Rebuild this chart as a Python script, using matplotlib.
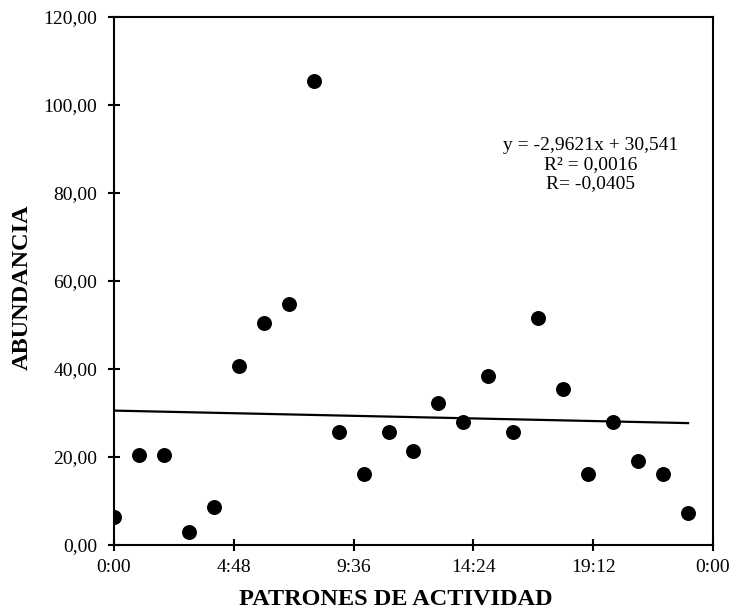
import matplotlib
matplotlib.use("Agg")
import matplotlib.pyplot as plt
import numpy as np

# hourly activity, fraction of a day on x
horas = np.arange(24) / 24.0
abundancia = [6.45, 20.45, 20.45, 3.0, 8.6, 40.75, 50.4, 54.8, 105.45, 25.75,
              16.1, 25.75, 21.4, 32.3, 27.9, 38.5, 25.75, 51.6, 35.45, 16.1,
              27.9, 19.2, 16.1, 7.3]

x_ticks = [0.0, 0.2, 0.4, 0.6, 0.8, 1.0]
x_labels = ["0:00", "4:48", "9:36", "14:24", "19:12", "0:00"]
y_ticks = [0, 20, 40, 60, 80, 100, 120]

pendiente = -2.9621
intercepto = 30.541
texto_ajuste = "y = -2,9621x + 30,541\nR² = 0,0016\nR= -0,0405"

plt.rcParams['font.family'] = ['Liberation Serif', 'DejaVu Serif']

fig = plt.figure(figsize=(7.34, 6.12), dpi=100)
ax = fig.add_axes([0.1553, 0.1095, 0.8161, 0.8627])

ax.scatter(horas, abundancia, s=95, c='black', zorder=3)

xl = np.array([horas[0], horas[-1]])
ax.plot(xl, pendiente * xl + intercepto, color='black', lw=1.6, zorder=2)

ax.set_xlim(0, 1)
ax.set_ylim(0, 120)
ax.set_xticks(x_ticks)
ax.set_xticklabels(x_labels)
ax.set_yticks(y_ticks)
ax.set_yticklabels([f"{v:.2f}".replace('.', ',') for v in y_ticks])

for s in ax.spines.values():
    s.set_linewidth(1.5)
ax.tick_params(direction='inout', length=8, width=1.5, labelsize=14)
ax.tick_params(axis='y', pad=8)
ax.tick_params(axis='x', pad=6)

ax.set_xlabel("PATRONES DE ACTIVIDAD", fontsize=17.5, fontweight='bold')
ax.xaxis.set_label_coords(0.471, -0.084)
ax.set_ylabel("ABUNDANCIA", fontsize=17.5, fontweight='bold', labelpad=8)
ax.yaxis.label.set_y(0.489)

ax.text(0.795, 86.4, texto_ajuste, ha='center', va='center', fontsize=14,
        linespacing=1.15)

fig.savefig("out.png", dpi=100)
